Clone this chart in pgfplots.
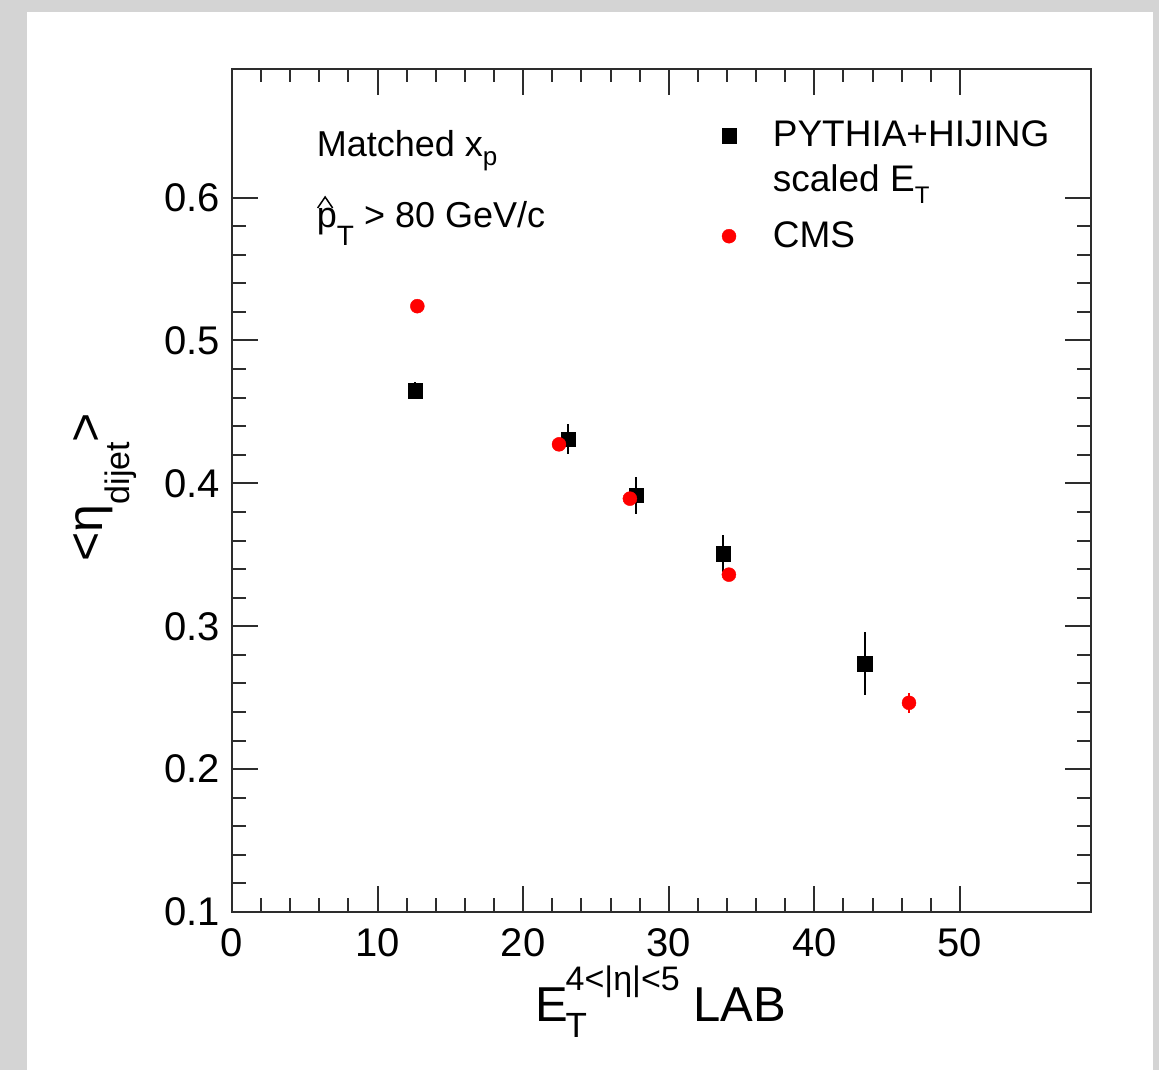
\documentclass[border=0pt]{standalone}
\usepackage{fontspec}
\setmainfont{Liberation Sans}
\usepackage{pgfplots}
\pgfplotsset{compat=1.18}
\definecolor{framegray}{RGB}{212,212,212}
\definecolor{axisgray}{RGB}{45,45,45}

\begin{document}
\begin{tikzpicture}
\useasboundingbox (-232pt,-158pt) rectangle (927pt,912pt);
% canvas: grey surround with a white pad
\fill[framegray] (-232pt,-158pt) rectangle (927pt,912pt);
\fill[white] (-205pt,-158pt) rectangle (921pt,900pt);
\begin{axis}[
  at={(0pt,0pt)}, anchor=south west,
  scale only axis, width=859pt, height=843pt,
  xmin=0, xmax=59, ymin=0.1, ymax=0.69,
  xtick={0,10,20,30,40,50}, minor x tick num=4,
  ytick={0.1,0.2,0.3,0.4,0.5,0.6}, minor y tick num=4,
  tick align=inside, xtick pos=both, ytick pos=both,
  major tick length=26pt, minor tick length=13.5pt,
  axis line style={axisgray, line width=2pt},
  tick style={axisgray, line width=2pt},
  major tick style={axisgray, line width=2pt},
  minor tick style={axisgray, line width=2pt},
  /pgf/number format/assume math mode=true,
  ticklabel style={font=\fontsize{40}{48}\selectfont},
  yticklabel style={inner sep=0pt, xshift=-12pt},
  xticklabel style={inner sep=0pt, yshift=-16pt},
  xlabel={E\kern-3pt\rlap{\raisebox{-16pt}{\fontsize{35}{40}\selectfont T}}\raisebox{31pt}{\fontsize{34}{40}\selectfont 4<|η|<5} LAB},
  xlabel style={at={(axis description cs:0.4994,-0.1293)}, anchor=base,
                font=\fontsize{49}{58}\selectfont, inner sep=0pt},
  ylabel={<η\raisebox{-27pt}{\fontsize{34}{40}\selectfont dijet}>},
  ylabel style={at={(axis description cs:-0.1502,0.504)}, anchor=base,
                font=\fontsize{50}{60}\selectfont, inner sep=0pt},
  legend style={draw=none, fill=none, at={(0.5687,0.9357)}, anchor=north west,
                inner sep=0pt, outer sep=0pt, row sep=20pt,
                font=\fontsize{37}{42}\selectfont,
                cells={anchor=west},
                nodes={inner sep=0pt, text height=23.5pt},
                /tikz/every odd column/.append style={column sep=36.5pt}},
]
% PYTHIA+HIJING with scaled E_T
\addplot[only marks, mark=square*, mark size=7.3pt, black,
  mark options={line width=0.4pt},
  error bars/.cd, y dir=both, y explicit, error mark=none,
  error bar style={line width=1.8pt, black}]
  coordinates {
    (12.57,0.4650) +- (0,0.0060)
    (23.10,0.4310) +- (0,0.0103)
    (27.75,0.3916) +- (0,0.0130)
    (33.75,0.3508) +- (0,0.0130)
    (43.47,0.2739) +- (0,0.0218)
  };
\addlegendentry{PYTHIA+HIJING}
\addlegendimage{empty legend}
\addlegendentry[text depth=12pt]{scaled E\raisebox{-12pt}{\fontsize{24}{28}\selectfont T}}
% CMS measurement
\addplot[only marks, mark=*, mark size=7pt, red,
  mark options={line width=0.4pt},
  error bars/.cd, y dir=both, y explicit, error mark=none,
  error bar style={line width=1.8pt, red}]
  coordinates {
    (12.73,0.5240) +- (0,0.0030)
    (22.46,0.4273) +- (0,0.0030)
    (27.33,0.3893) +- (0,0.0030)
    (34.13,0.3361) +- (0,0.0030)
    (46.50,0.2464) +- (0,0.0070)
  };
\addlegendentry{CMS}
\node[anchor=base west, font=\fontsize{36}{42}\selectfont, inner sep=0pt]
  at (axis description cs:0.0986,0.896)
  {Matched x\raisebox{-9pt}{\fontsize{26}{30}\selectfont p}};
\node[anchor=base west, font=\fontsize{36}{42}\selectfont, inner sep=0pt]
  at (axis description cs:0.0986,0.8114)
  {\rlap{\tikz[baseline=0pt]\draw[line width=1.5pt, line join=miter]
      (0.5pt,20pt) -- (8pt,31pt) -- (15.5pt,20pt);}%
   p\raisebox{-18pt}{\fontsize{28}{30}\selectfont T} > 80 GeV/c};
\end{axis}
\end{tikzpicture}
\end{document}
